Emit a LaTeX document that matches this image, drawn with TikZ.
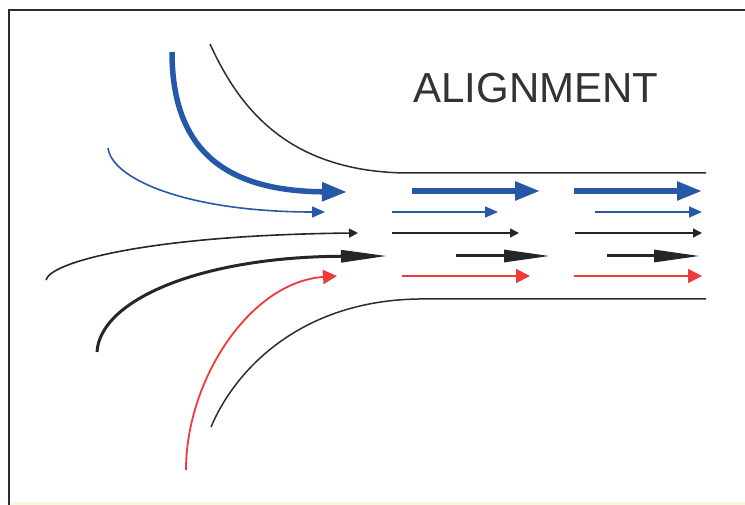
\documentclass[tikz,border=0pt]{standalone}
\usepackage{fontspec}
\setmainfont{Liberation Sans}
\usetikzlibrary{arrows.meta}
\definecolor{flowblue}{RGB}{38,88,168}
\definecolor{flowred}{RGB}{238,58,58}
\definecolor{wallgray}{RGB}{45,45,45}
\definecolor{edgeyellow}{RGB}{250,246,226}

\begin{document}
\begin{tikzpicture}[x=1pt,y=-1pt,
	wall/.style={wallgray,line width=1.5pt},
	bluebig/.style={flowblue,line width=5.5pt,-{Triangle[length=25pt,width=18pt]}},
	bluethin/.style={flowblue,line width=1.6pt,-{Triangle[length=13pt,width=11pt]}},
	blackthin/.style={black!85,line width=1.6pt,-{Triangle[length=9pt,width=9pt]}},
	dart/.style={black!85,line width=3pt,-{Triangle[length=46pt,width=12pt]}},
	redthin/.style={flowred,line width=1.8pt,-{Triangle[length=14pt,width=14pt]}}]
		\useasboundingbox (0,0) rectangle (745,505);
		% frame
		\draw[edgeyellow,line width=3pt] (9,503) -- (745,503);
		\draw[wallgray,line width=2pt] (9,505) -- (9,10) -- (745,10);
		\node[text=black!80,inner sep=0pt] (title) at (536,88) {\fontsize{42}{42}\selectfont ALIGNMENT};
		% channel walls
		\draw[wall] (210,44) .. controls (238,105) and (285,171) .. (405,173) -- (706,173);
		\draw[wall] (211,427) .. controls (235,370) and (300,301) .. (418,299) -- (706,299);
		% converging streamlines
		\draw[bluebig] (172,52) .. controls (172,150) and (225,191) .. (347,192);
		\draw[bluethin] (108,148) .. controls (112,180) and (190,212) .. (325,212);
		\draw[blackthin] (46,280) .. controls (50,262) and (150,235) .. (358,233);
		\draw[dart] (97,352) .. controls (100,300) and (200,257) .. (387,256);
		\draw[redthin] (186,470) .. controls (186,380) and (250,282) .. (337,276);
		% aligned flow in the channel
		\draw[bluebig] (412,191) -- (540,191);
		\draw[bluebig] (574,191) -- (702,191);
		\draw[bluethin] (392,212) -- (498,212);
		\draw[bluethin] (595,212) -- (702,212);
		\draw[blackthin] (392,233) -- (519,233);
		\draw[blackthin] (575,233) -- (702,233);
		\draw[dart] (456,256) -- (550,256);
		\draw[dart] (607,256) -- (700,256);
		\draw[redthin] (402,276) -- (530,276);
		\draw[redthin] (574,276) -- (702,276);
\end{tikzpicture}
\end{document}
